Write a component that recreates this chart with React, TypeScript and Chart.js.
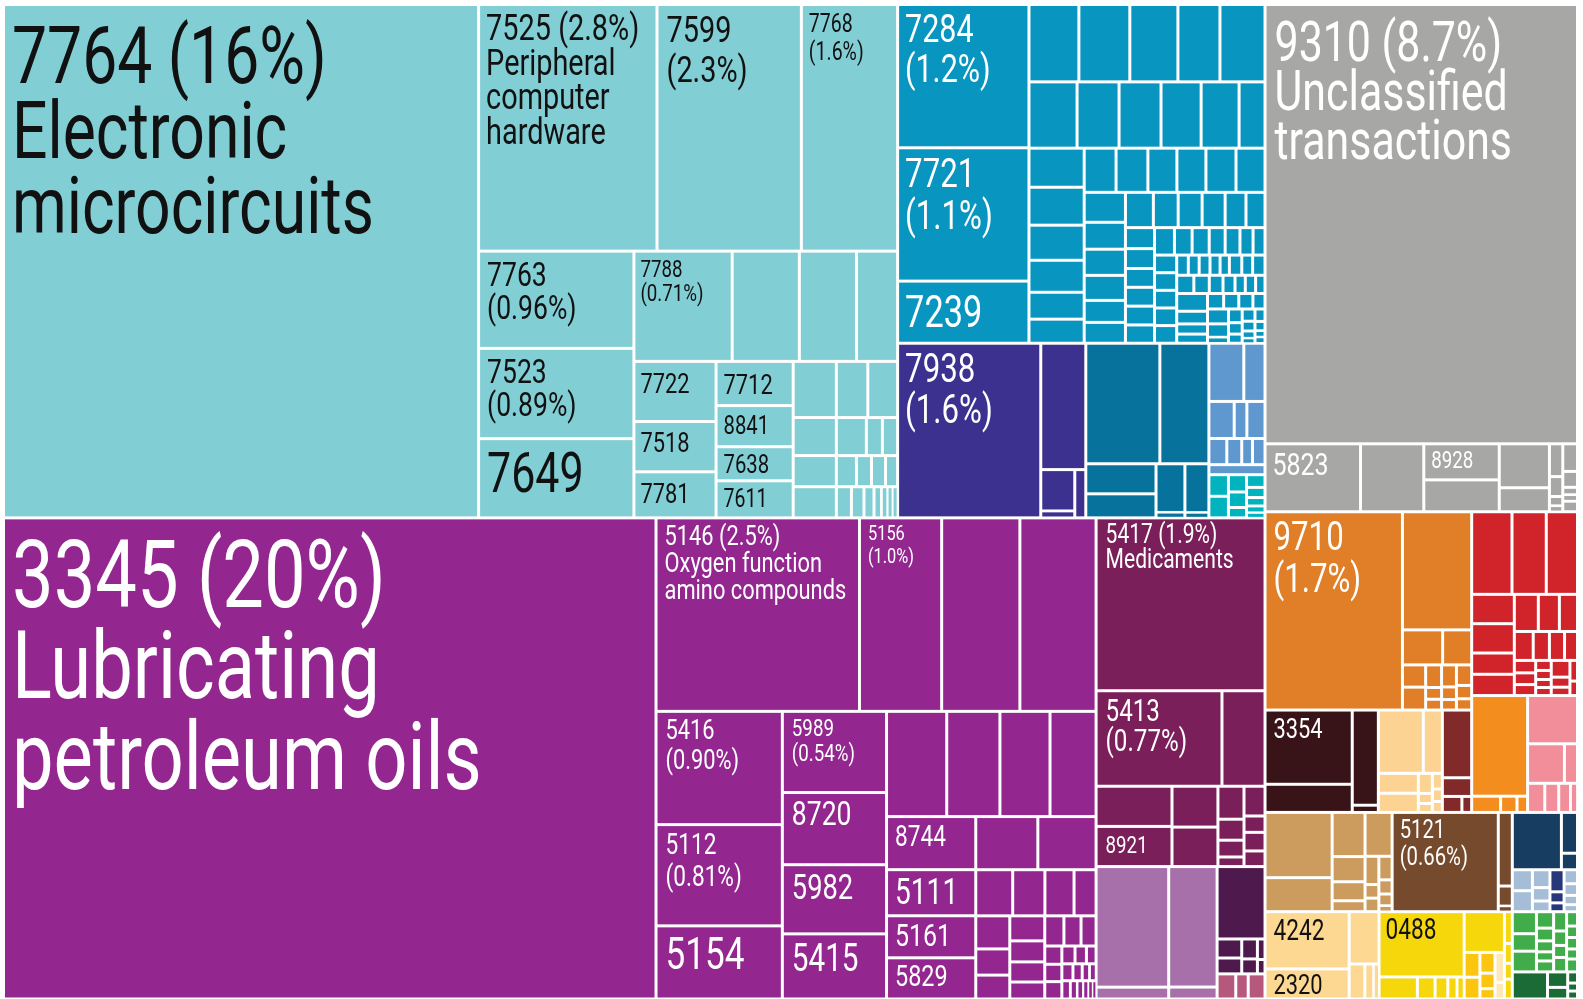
import React, { useEffect, useRef } from "react";
import { Chart, registerables } from "chart.js";

Chart.register(...registerables);

// ---------------- Labelled products (share of exports, %) ----------------
const productCodes = ["7764","3345","9310","7525","7599","7768","7763","7523","7649","7788","7722","7518","7781","7712","8841","7638","7611","7284","7721","7239","7938","5823","8928","5146","5156","5416","5112","5154","5989","8720","5982","5415","8744","5111","5161","5829","5417","5413","8921","9710","3354","5121","4242","2320","0488"];
const productShares = [15.60,20.08,8.78,2.814,2.277,1.518,0.966,0.897,0.787,0.693,0.316,0.264,0.242,0.218,0.203,0.168,0.183,1.204,1.120,0.522,1.599,0.415,0.174,2.518,1.017,0.915,0.818,0.591,0.541,0.481,0.461,0.434,0.303,0.263,0.240,0.235,1.868,0.769,0.195,1.743,0.414,0.674,0.308,0.162,0.355];
const printedShares = ["16%","20%","8.7%","2.8%","2.3%","1.6%","0.96%","0.89%","","0.71%","","","","","","","","1.2%","1.1%","","1.6%","","","2.5%","1.0%","0.90%","0.81%","","0.54%","","","","","","","","1.9%","0.77%","","1.7%","","0.66%","","",""];
const productNames = ["Electronic\nmicrocircuits","Lubricating\npetroleum oils","Unclassified\ntransactions","Peripheral\ncomputer\nhardware","","","","","","","","","","","","","","","","","","","","Oxygen function\namino compounds","","","","","","","","","","","","","Medicaments","","","","","","","",""];

// ---------------- Unlabelled product shares (%) ----------------
const tealRowB = [0.474, 0.403, 0.290];
const tealSmallA = [0.155, 0.105, 0.086, 0.086];
const tealSmallB = [[0.113, 0.107], [0.073, 0.039, 0.037], [0.040, 0.030, 0.028, 0.024], [0.03, 0.025, 0.02, 0.015, 0.012, 0.01, 0.01]];

const blueRow1 = [0.247, 0.252, 0.238, 0.208, 0.223];
const blueRow2 = [0.204, 0.178, 0.178, 0.170, 0.161, 0.110];
const blueCol1 = [0.138, 0.134, 0.124, 0.113, 0.095, 0.085];
const blueRow3 = [0.090, 0.090, 0.082, 0.082, 0.085, 0.082];
const blueCol2 = [0.079, 0.071, 0.069, 0.066, 0.058, 0.055];
const blueRow4 = [0.063, 0.056, 0.054, 0.052, 0.047, 0.043];
const blueCol3 = [0.039, 0.037, 0.035, 0.035, 0.035, 0.034];
const blueRow5 = [0.035, 0.031, 0.030, 0.028, 0.026, 0.023, 0.021];
const blueCol4 = [0.025, 0.025, 0.025, 0.025, 0.025];
const blueTiny = [[0.015, 0.014, 0.014, 0.013, 0.012, 0.016, 0.014, 0.016], [0.02, 0.018, 0.016, 0.014, 0.012, 0.012, 0.011], [[0.035, 0.025, 0.02, 0.018], [[0.016, 0.015, 0.014, 0.012], [[0.02, 0.018, 0.008], [0.012, 0.01, 0.008], [0.01, 0.008, 0.006, 0.004], [0.008, 0.006, 0.004, 0.004]]]]];

const indigoSide = [0.364, [[0.09, 0.015], 0.034]];
const darkTealTop = [0.571, 0.378];
const darkTealBottom = [[0.135, 0.108], [0.09, 0.01], [0.075, 0.008]];
const lightBlueRows = [[0.13, 0.079], [0.06, 0.03, 0.043], [0.03, 0.025, 0.018, 0.021], 0.036];
const cyanCols = [[0.027, 0.027], [0.02, 0.018, 0.012], [0.015, 0.012, 0.01, 0.008, 0.006]];

const purpleRow1 = [0.968, 0.943];
const purpleRow2 = [0.405, 0.358, 0.337, 0.310];
const purpleRow3 = [0.211, 0.198];
const purpleRow4 = [0.109, 0.095, 0.086, 0.065];
const purpleCol1 = [0.072, 0.057, 0.052];
const purpleCol2 = [0.056, 0.047, 0.045, 0.038];
const purpleRow5 = [0.037, 0.033, 0.029];
const purpleCol3 = [0.02, 0.019, 0.019];
const purpleTiny = [[0.015, 0.013, 0.011], [0.012, 0.01, 0.008, 0.007], [0.01, 0.008, 0.007, 0.006, 0.005, 0.004]];

const magentaSide = [0.263];
const magentaSmall = [[0.195, "8921"], [0.12, 0.116], [0.055, 0.035, 0.028, 0.016], [0.04, 0.022, 0.025, 0.021]];
const lavenderCols = [[0.56, 0.055], [0.373, 0.037]];
const darkPurpleCells = [0.222, [[0.03, 0.025], [0.02, 0.015], [0.01, 0.007]]];
const pinkPurpleCells = [0.03, 0.02, 0.027];

const grayStrip = ["5823", 0.275, ["8928", 0.154], [0.141, 0.077], [0.028, 0.017, 0.008, 0.005], [0.026, 0.015, 0.007, 0.006, 0.01]];

const orangeSide = [0.523, [0.09, 0.065], [[0.033, 0.034], [0.023, 0.012, 0.011], [0.021, 0.012, 0.01], [0.02, 0.013, 0.011]]];
const brownCols = [["3354", 0.157], [0.159, 0.012]];
const beigeRows = [[0.182, 0.077], [[0.051, 0.049], [0.018, 0.009, 0.008], [0.01, 0.008, 0.007]]];
const darkRedCells = [0.127, 0.035, [0.02, 0.01]];
const redTop = [0.213, 0.181, 0.165];
const redBottom = [[0.08, 0.08, 0.058, 0.058], [[0.057, 0.05, 0.043], [0.035, 0.03, 0.028, 0.024], [[0.017, 0.016, 0.015], [0.01, 0.009, 0.008, 0.008], [0.02, 0.012, 0.01], [0.01, 0.007]]]];
const orange2Cells = [0.36, [0.03, 0.017, 0.011]];
const pinkCells = [0.154, [0.093, 0.033], [0.032, 0.026, 0.022, 0.013]];

const tanCols = [[0.280, 0.146], [0.093, 0.053, 0.040, 0.023], [0.076, [[0.025, 0.012, 0.012], [0.02, 0.012, 0.01, 0.005]]]];
const brownSide = [0.066, 0.018, 0.005];
const beige2Cols = [["4242", "2320"], [0.100, [0.035, 0.02, 0.012]]];
const yellowMain = ["0488", [0.054, 0.025, 0.018, 0.013, 0.01]];
const yellowCol = [0.105];
const goldA = [0.025, 0.022];
const goldB = [0.02, 0.015, 0.01];
const creamCells = [0.018, 0.01];
const yellowEdge = [0.016, 0.01, 0.008, 0.01];
const navyCells = [0.18, [0.042, 0.017]];
const steelCols = [[0.027, 0.027], [0.02, 0.015, 0.012]];
const navy2Cells = [0.02, 0.01, 0.008];
const steelEnd = [0.012, 0.01, 0.008, 0.006];
const greenCols = [[0.034, 0.027, 0.032], [0.018, 0.014, 0.012, 0.01, 0.012], [0.016, 0.012, 0.01, 0.012], [0.01, 0.008, 0.008, 0.007, 0.009]];
const darkGreenCells = [0.061, [0.02, 0.015], [0.007, 0.005, 0.005]];

// ---------------- Styles ----------------
const C = {
  teal: "#82ced5", blue: "#0896c1", indigo: "#3d3190", dteal: "#07739d", lblue: "#5f98cf", cyan: "#00b3bf",
  gray: "#a7a8a6", purple: "#93278f", magenta: "#7b1f5a", lavender: "#a870aa", dpurple: "#4e1a4d", pinkp: "#b5587b",
  orange: "#e07f27", red: "#d1232a", dbrown: "#381418", beige: "#fdd393", dred: "#822a2a", orange2: "#f38e1e",
  pink: "#f18e99", tan: "#cc9b5e", brown: "#764a2d", beige2: "#fdd892", yellow: "#f6d70c", gold: "#fcc50f",
  cream: "#fde8b6", navy: "#173d60", steel: "#a6bdd7", navy2: "#27387a", green: "#41ad4a", dgreen: "#1b6b36",
};
const DARK = "#111111";
const LIGHT = "#ffffff";
const CONDENSE = 0.78;
const FONT_WEIGHT = 400;
// [font size, line height, first baseline offset, left offset]
const labelStyle: Record<string, number[]> = {
  "7764": [80, 75, 77, 7], "3345": [95, 91, 88, 7], "9310": [55, 49, 55, 8], "7525": [37, 34.5, 34, 6],
  "7599": [37, 40, 36, 8], "7768": [25, 28, 26, 6], "7763": [34, 33, 33, 7], "7523": [34, 33, 33, 7],
  "7649": [55, 0, 52, 7], "7788": [24, 24, 24, 5], "7722": [28, 0, 30, 5], "7518": [28, 0, 29, 5],
  "7781": [28, 0, 30, 5], "7712": [28, 0, 31, 6], "8841": [26, 0, 27, 6], "7638": [26, 0, 25, 6],
  "7611": [25, 0, 25, 6], "7284": [39, 40, 36, 6], "7721": [40, 42, 38, 6], "7239": [44, 0, 44, 6],
  "7938": [40, 41, 37, 6], "5823": [32, 0, 30, 6], "8928": [24, 0, 23, 6], "5146": [28, 27, 26, 7],
  "5156": [21, 23, 21, 7], "5416": [28, 30, 26, 8], "5112": [29, 32, 28, 8], "5154": [45, 0, 42, 8],
  "5989": [24, 25, 23, 8], "8720": [34, 0, 31, 8], "5982": [35, 0, 33, 8], "5415": [38, 0, 36, 8],
  "8744": [29, 0, 28, 7], "5111": [36, 0, 33, 7], "5161": [32, 0, 29, 7], "5829": [30, 0, 27, 7],
  "5417": [27, 25, 24, 8], "5413": [31, 30, 29, 8], "8921": [24, 0, 25, 8], "9710": [40, 42, 37, 7],
  "3354": [28, 0, 26, 7], "5121": [26, 27, 24, 6], "4242": [29, 0, 27, 7], "2320": [28, 0, 24, 7],
  "0488": [29, 0, 26, 5],
};

// ---------------- Tree ----------------
type Item = any;
interface Group { dir?: "h" | "v"; color?: string; ink?: string; items: Item[] }

const teal: Group = { color: C.teal, ink: DARK, dir: "h", items: ["7764", [["7525", "7599", "7768"], [["7763", "7523", "7649"], [["7788", ...tealRowB], [["7722", "7518", "7781"], ["7712", "8841", "7638", "7611"], tealSmallA, tealSmallB]]]]] };
const blue: Group = { color: C.blue, dir: "h", items: [["7284", "7721", "7239"], [blueRow1, blueRow2, [blueCol1, [blueRow3, [blueCol2, [blueRow4, [blueCol3, [blueRow5, [blueCol4, blueTiny]]]]]]]]] };
const indigo: Group = { color: C.indigo, dir: "h", items: ["7938", indigoSide] };
const darkTeal: Group = { color: C.dteal, dir: "v", items: [darkTealTop, darkTealBottom] };
const lightBlue: Group = { color: C.lblue, dir: "v", items: [...lightBlueRows, { color: C.cyan, dir: "h", items: cyanCols }] };
const A1: Group = { dir: "h", items: [teal, { dir: "v", items: [blue, { dir: "h", items: [indigo, darkTeal, lightBlue] }] }] };

const purple: Group = { color: C.purple, dir: "h", items: ["3345", [["5146", "5156", ...purpleRow1], [["5416", "5112", "5154"], ["5989", "8720", "5982", "5415"], [purpleRow2, [["8744", "5111", "5161", "5829"], [purpleRow3, purpleRow4, [purpleCol1, purpleCol2, [purpleRow5, [purpleCol3, purpleTiny]]]]]]]]] };
const magCol: Group = { dir: "v", items: [
  { color: C.magenta, dir: "v", items: ["5417", ["5413", ...magentaSide], magentaSmall] },
  { dir: "h", items: [
    { color: C.lavender, dir: "h", items: lavenderCols },
    { color: C.dpurple, dir: "v", items: [...darkPurpleCells, { color: C.pinkp, dir: "h", items: pinkPurpleCells }] },
  ] },
] };
const A2: Group = { dir: "h", items: [purple, magCol] };

const gray: Group = { color: C.gray, dir: "v", items: ["9310", grayStrip] };
const U1: Group = { dir: "v", items: [
  { color: C.orange, dir: "h", items: ["9710", orangeSide] },
  { dir: "h", items: [
    { color: C.dbrown, dir: "h", items: brownCols },
    { color: C.beige, ink: DARK, dir: "v", items: beigeRows },
    { color: C.dred, dir: "v", items: darkRedCells },
  ] },
] };
const U2: Group = { dir: "v", items: [
  { color: C.red, dir: "v", items: [redTop, redBottom] },
  { dir: "h", items: [{ color: C.orange2, dir: "v", items: orange2Cells }, { color: C.pink, dir: "v", items: pinkCells }] },
] };
const L1: Group = { dir: "v", items: [
  { dir: "h", items: [{ color: C.tan, dir: "h", items: tanCols }, { color: C.brown, dir: "h", items: ["5121", brownSide] }] },
  { dir: "h", items: [
    { color: C.beige2, ink: DARK, dir: "h", items: beige2Cols },
    { color: C.yellow, ink: DARK, dir: "h", items: [yellowMain, [...yellowCol, { dir: "h", items: [{ color: C.gold, items: goldA }, { color: C.gold, items: goldB }, { color: C.cream, items: creamCells }] }], yellowEdge] },
  ] },
] };
const L2: Group = { dir: "v", items: [
  { color: C.navy, dir: "h", items: navyCells },
  { color: C.steel, dir: "h", items: [...steelCols, { color: C.navy2, items: navy2Cells }, steelEnd] },
  { color: C.green, dir: "v", items: [greenCols, { color: C.dgreen, dir: "h", items: darkGreenCells }] },
] };
const B: Group = { dir: "v", items: [gray, { dir: "v", items: [{ dir: "h", items: [U1, U2] }, { dir: "h", items: [L1, L2] }] }] };
const root: Group = { dir: "h", items: [{ dir: "v", items: [A1, A2] }, B] };

// ---------------- Layout ----------------
const shareOf = (code: string) => productShares[productCodes.indexOf(code)];
function total(it: Item): number {
  if (typeof it === "number") return it;
  if (typeof it === "string") return shareOf(it);
  const arr = Array.isArray(it) ? it : it.items;
  return arr.reduce((s: number, c: Item) => s + total(c), 0);
}
interface Cell { x0: number; y0: number; x1: number; y1: number; color: string; ink: string; code?: string }
function layout(it: Item, x0: number, y0: number, x1: number, y1: number, dir: string, color: string, ink: string, out: Cell[]) {
  if (typeof it === "number" || typeof it === "string") {
    out.push({ x0, y0, x1, y1, color, ink, code: typeof it === "string" ? it : undefined });
    return;
  }
  let kids: Item[]; let d = dir; let c = color; let k = ink;
  if (Array.isArray(it)) kids = it;
  else { kids = it.items; if (it.dir) d = it.dir; if (it.color) c = it.color; if (it.ink) k = it.ink; }
  const tot = total(it);
  let pos = d === "h" ? x0 : y0;
  for (const kid of kids) {
    const f = total(kid) / tot;
    if (d === "h") { const nx = pos + (x1 - x0) * f; layout(kid, pos, y0, nx, y1, "v", c, k, out); pos = nx; }
    else { const ny = pos + (y1 - y0) * f; layout(kid, x0, pos, x1, ny, "h", c, k, out); pos = ny; }
  }
}

const treemapPlugin = {
  id: "treemapCells",
  afterDatasetsDraw(chart: any) {
    const { ctx } = chart;
    const xs = chart.scales.x;
    const ys = chart.scales.y;
    const cells: Cell[] = [];
    layout(root, 0, 0, 1, 1, "h", C.gray, LIGHT, cells);
    ctx.save();
    const rects = cells.map((c) => {
      const px0 = xs.getPixelForValue(c.x0), px1 = xs.getPixelForValue(c.x1);
      const py0 = ys.getPixelForValue(c.y0), py1 = ys.getPixelForValue(c.y1);
      const w = px1 - px0, h = py1 - py0;
      const gx = Math.min(1.5, w * 0.2), gy = Math.min(1.5, h * 0.2);
      return { c, x: px0 + gx, y: py0 + gy, w: w - 2 * gx, h: h - 2 * gy };
    });
    for (const r of rects) {
      ctx.fillStyle = r.c.color;
      ctx.fillRect(r.x, r.y, r.w, r.h);
    }
    for (const r of rects) {
      const code = r.c.code;
      if (!code || !labelStyle[code]) continue;
      const [size, lh, dy, dx] = labelStyle[code];
      const i = productCodes.indexOf(code);
      const lines = productNames[i]
        ? [`${code} (${printedShares[i]})`, ...productNames[i].split("\n")]
        : [code, ...(printedShares[i] ? [`(${printedShares[i]})`] : [])];
      ctx.save();
      ctx.beginPath();
      ctx.rect(r.x, r.y, r.w, r.h);
      ctx.clip();
      ctx.fillStyle = r.c.ink;
      ctx.font = `${FONT_WEIGHT} ${size}px Roboto, "Noto Sans", sans-serif`;
      ctx.textBaseline = "alphabetic";
      ctx.textAlign = "left";
      ctx.translate(r.x + dx, r.y + dy);
      ctx.scale(CONDENSE, 1);
      lines.forEach((ln, j) => ctx.fillText(ln, 0, j * lh));
      ctx.restore();
    }
    ctx.restore();
  },
};

export default function App() {
  const ref = useRef<HTMLCanvasElement>(null);
  useEffect(() => {
    if (!ref.current) return;
    const chart = new Chart(ref.current, {
      type: "scatter",
      data: { datasets: [{ data: [] }] },
      options: {
        animation: false,
        responsive: false,
        devicePixelRatio: 1,
        layout: { padding: { left: 3.5, top: 4.5, right: 5.5, bottom: 0 } },
        scales: {
          x: { type: "linear", display: false, min: 0, max: 1 },
          y: { type: "linear", display: false, min: 0, max: 1, reverse: true },
        },
        plugins: { legend: { display: false }, tooltip: { enabled: false } },
      },
      plugins: [treemapPlugin],
    } as any);
    return () => chart.destroy();
  }, []);
  return (
    <div style={{ position: "fixed", left: 0, top: 0, width: 1583, height: 999, background: "#ffffff" }}>
      <canvas ref={ref} width={1583} height={999} style={{ display: "block", width: 1583, height: 999 }} />
    </div>
  );
}
